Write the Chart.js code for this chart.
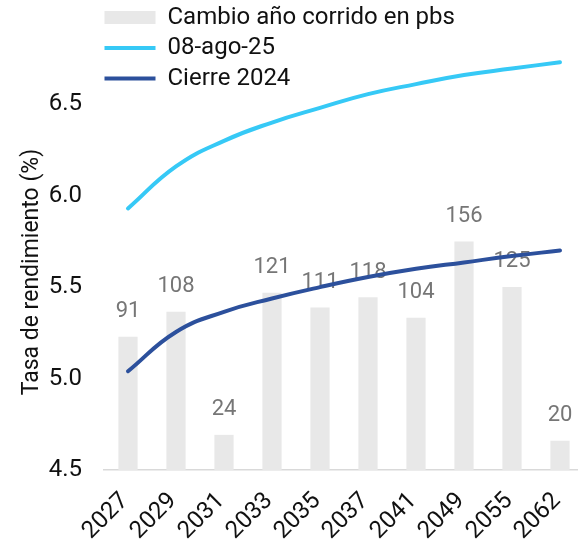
<!DOCTYPE html>
<html>
    <head>
        <title>Curva de rendimientos</title>
        <meta charset="utf-8">
        <style>
            html, body { margin: 0; padding: 0; overflow: hidden; background: #fff; }
            .chart-container { position: relative; width: 584px; height: 541px; }
        </style>
    </head>
    <body>
        <div class="chart-container">
            <canvas id="myChart"></canvas>
        </div>
        <script src="https://cdn.jsdelivr.net/npm/chart.js@4.4.1/dist/chart.umd.min.js"></script>
        <script>
            // plazos (año de vencimiento)
            const years = ['2027', '2029', '2031', '2033', '2035', '2037', '2041', '2049', '2055', '2062'];
            // cambio año corrido en pbs (barras, eje secundario oculto)
            const cambioPbs = [91, 108, 24, 121, 111, 118, 104, 156, 125, 20];
            // tasas en %
            const tasaAgo25 = [5.93, 6.16, 6.30, 6.40, 6.48, 6.555, 6.61, 6.66, 6.695, 6.73];
            const tasaCierre24 = [5.04, 5.255, 5.365, 5.438, 5.50, 5.555, 5.60, 5.635, 5.67, 5.70];
            const yTicks = [4.5, 5.0, 5.5, 6.0, 6.5];

            const FONT = 'Roboto';

            // numbers above the bars, drawn right after the bars (lines go on top)
            const barLabels = {
                id: 'barLabels',
                afterDatasetDraw(chart, args) {
                    if (args.index !== 0) return;
                    const ctx = chart.ctx;
                    ctx.save();
                    ctx.font = '22px ' + FONT;
                    ctx.fillStyle = '#767676';
                    ctx.textAlign = 'center';
                    ctx.textBaseline = 'middle';
                    args.meta.data.forEach((bar, i) => {
                        ctx.fillText(cambioPbs[i], bar.x, bar.y - 25);
                    });
                    ctx.restore();
                }
            };

            // nudge the in-plot legend to the plot's top-left corner
            const legendNudge = {
                id: 'legendNudge',
                afterLayout(chart) {
                    chart.legend.left = chart.chartArea.left - 6;
                    chart.legend.top = chart.chartArea.top - 1;
                }
            };

            const ctx = document.getElementById('myChart').getContext('2d');
            const chart = new Chart(ctx, {
                type: 'bar',
                data: {
                    labels: years,
                    datasets: [{
                        label: 'Cambio año corrido en pbs',
                        data: cambioPbs,
                        backgroundColor: '#e8e8e8',
                        borderWidth: 0,
                        yAxisID: 'y2',
                        barPercentage: 0.4,
                        categoryPercentage: 1.0,
                        pointStyle: 'rect',
                        order: 2
                    }, {
                        type: 'line',
                        label: '08-ago-25',
                        data: tasaAgo25,
                        borderColor: '#36c9f6',
                        backgroundColor: '#36c9f6',
                        borderWidth: 4,
                        pointRadius: 0,
                        pointBorderWidth: 4,
                        pointStyle: 'line',
                        tension: 0.45,
                        borderCapStyle: 'round',
                        yAxisID: 'y',
                        order: 1
                    }, {
                        type: 'line',
                        label: 'Cierre 2024',
                        data: tasaCierre24,
                        borderColor: '#2c509c',
                        backgroundColor: '#2c509c',
                        borderWidth: 4,
                        pointRadius: 0,
                        pointBorderWidth: 4,
                        pointStyle: 'line',
                        tension: 0.45,
                        borderCapStyle: 'round',
                        yAxisID: 'y',
                        order: 0
                    }]
                },
                options: {
                    responsive: true,
                    maintainAspectRatio: false,
                    animation: false,
                    layout: { autoPadding: false, padding: 0 },
                    plugins: {
                        tooltip: { enabled: false },
                        legend: {
                            position: 'chartArea',
                            align: 'start',
                            labels: {
                                usePointStyle: true,
                                pointStyleWidth: 51,
                                boxHeight: 13,
                                padding: 6.5,
                                color: '#111',
                                font: { family: FONT, size: 24 },
                                sort: (a, b) => a.datasetIndex - b.datasetIndex
                            }
                        }
                    },
                    scales: {
                        x: {
                            offset: true,
                            grid: { display: false, drawTicks: false },
                            border: { display: true, color: '#d9d9d9', width: 1.5 },
                            ticks: {
                                color: '#111',
                                font: { family: FONT, size: 24 },
                                maxRotation: 45,
                                minRotation: 45,
                                padding: 17,
                                labelOffset: -3,
                                autoSkip: false
                            },
                            afterFit: (s) => { s.height = 71; s.paddingLeft = 0; s.paddingRight = 0; }
                        },
                        y: {
                            position: 'left',
                            min: 4.5,
                            max: 7.07,
                            grid: { display: false, drawTicks: false },
                            border: { display: false },
                            afterBuildTicks: (axis) => { axis.ticks = yTicks.map(v => ({ value: v })); },
                            ticks: {
                                color: '#111',
                                font: { family: FONT, size: 24 },
                                padding: 22,
                                callback: (v) => v.toFixed(1)
                            },
                            title: {
                                display: true,
                                // trailing spaces push the centred title down like the original
                                text: 'Tasa de rendimiento (%)' + '\u00a0'.repeat(13),
                                color: '#111',
                                font: { family: FONT, size: 23 },
                                padding: { top: 18, bottom: 0 }
                            },
                            afterFit: (s) => { s.width = 104; s.paddingTop = 0; s.paddingBottom = 0; }
                        },
                        y2: {
                            display: false,
                            min: 0,
                            max: 321
                        }
                    }
                },
                plugins: [barLabels, legendNudge]
            });
        </script>
    </body>
</html>
